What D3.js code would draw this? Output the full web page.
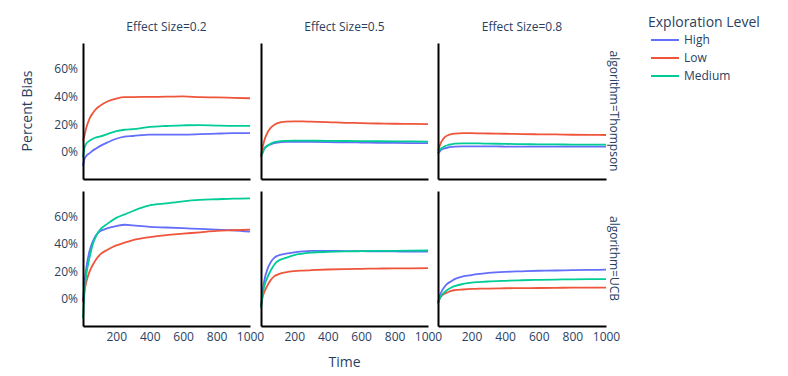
<!DOCTYPE html>
<html>
<head>
<meta charset="utf-8">
<script src="https://cdn.jsdelivr.net/npm/d3@7"></script>
<style>
  body { margin: 0; background: #fff; }
  text { font-family: "Open Sans", sans-serif; fill: #2a3f5f; }
</style>
</head>
<body>
<div id="chart"></div>
<script>
// Data
const times = [1, 10, 20, 40, 60, 80, 100, 150, 200, 250, 300, 400, 500, 600, 700, 800, 900, 1000];
const algorithms = ["Thompson", "UCB"];
const effectSizes = ["0.2", "0.5", "0.8"];
const levels = ["High", "Low", "Medium"];
const xTicks = [200, 400, 600, 800, 1000];
const yTicks = [0, 20, 40, 60];

// Thompson
const thompson02High   = [-10, -5, -3, -1, 1, 2.5, 4, 7, 9.5, 11, 11.5, 12.5, 12.5, 12.5, 12.8, 13.2, 13.5, 13.5];
const thompson02Low    = [8, 12, 17, 24, 28, 31, 33, 36.5, 38.5, 39.5, 39.5, 39.7, 39.8, 40, 39.5, 39.3, 39, 38.7];
const thompson02Medium = [-4, 3, 6, 8, 9.5, 10.5, 11, 13, 15, 16, 16.5, 18, 18.7, 19.2, 19.3, 19, 18.8, 18.8];
const thompson05High   = [-2, 0, 2.5, 4.5, 5.5, 6.3, 6.8, 7.2, 7.3, 7.3, 7.2, 7, 6.9, 6.8, 6.6, 6.5, 6.4, 6.3];
const thompson05Low    = [-4, 3, 8, 14, 17.5, 19.5, 20.8, 21.8, 22, 22, 21.8, 21.5, 21, 20.8, 20.5, 20.3, 20.2, 20];
const thompson05Medium = [-3, -1, 2, 4.5, 6, 7, 7.5, 8, 8.2, 8.2, 8.1, 8, 7.9, 7.8, 7.7, 7.6, 7.6, 7.5];
const thompson08High   = [-1, 0, 1.5, 2.5, 3.2, 3.6, 3.8, 4, 4, 4, 4, 3.9, 3.9, 3.9, 3.8, 3.8, 3.8, 3.8];
const thompson08Low    = [1, 4, 7, 10.5, 12, 12.8, 13.2, 13.5, 13.5, 13.4, 13.3, 13.1, 12.9, 12.7, 12.6, 12.4, 12.3, 12.2];
const thompson08Medium = [-1, 1, 2.5, 4, 5, 5.5, 6, 6.2, 6.2, 6.1, 6, 5.8, 5.6, 5.5, 5.4, 5.3, 5.2, 5.2];

// UCB
const ucb02High   = [-2, 12, 22, 35, 42, 46.5, 49, 51.5, 53, 54, 53.5, 52.5, 52, 51.5, 51, 50.5, 50, 49];
const ucb02Low    = [-2, 6, 12, 20, 25, 29, 32, 36, 39, 41, 42.8, 45, 46.5, 47.5, 48.5, 49.5, 50, 50.5];
const ucb02Medium = [-14, 5, 17, 30, 40, 46, 50, 55, 59, 61.5, 64, 68, 69.5, 71, 72, 72.5, 73, 73.2];
const ucb05High   = [-6, 5, 13, 22, 27, 30, 31.5, 33, 34, 34.6, 35, 35, 34.9, 34.8, 34.7, 34.6, 34.5, 34.5];
const ucb05Low    = [-6, 1, 5, 10, 14, 16.5, 17.8, 19.5, 20.3, 20.7, 21, 21.5, 21.8, 22, 22.2, 22.3, 22.4, 22.5];
const ucb05Medium = [-6, 3, 9, 16, 21, 25, 27.5, 30, 32, 33, 33.8, 34.3, 34.6, 34.8, 35, 35.1, 35.2, 35.3];
const ucb08High   = [-3, 2, 5, 9, 11.5, 13, 14.5, 16.5, 17.5, 18.3, 19, 19.8, 20.2, 20.6, 20.8, 21, 21.2, 21.4];
const ucb08Low    = [-3, 0, 2, 4, 5, 6, 6.5, 7, 7.4, 7.6, 7.7, 7.9, 8, 8.1, 8.2, 8.3, 8.3, 8.4];
const ucb08Medium = [-3, 0, 2.5, 5, 7, 8.5, 9.5, 11, 12, 12.4, 12.8, 13.3, 13.7, 14, 14.2, 14.4, 14.5, 14.6];

const seriesTable = {
    Thompson: {
        "0.2": { High: thompson02High, Low: thompson02Low, Medium: thompson02Medium },
        "0.5": { High: thompson05High, Low: thompson05Low, Medium: thompson05Medium },
        "0.8": { High: thompson08High, Low: thompson08Low, Medium: thompson08Medium }
    },
    UCB: {
        "0.2": { High: ucb02High, Low: ucb02Low, Medium: ucb02Medium },
        "0.5": { High: ucb05High, Low: ucb05Low, Medium: ucb05Medium },
        "0.8": { High: ucb08High, Low: ucb08Low, Medium: ucb08Medium }
    }
};

const colors = { High: "#636efa", Low: "#ef553b", Medium: "#00cc96" };

function createChart() {
    const width = 788, height = 376;

    // panel positions (columns = effect size, rows = algorithm)
    const cols = [[83, 250], [261, 428], [438, 606]];
    const rows = [[43, 179], [191, 326]];

    const svg = d3.select("#chart").append("svg")
        .attr("width", width)
        .attr("height", height);

    const line = d3.line().curve(d3.curveMonotoneX);

    algorithms.forEach((algo, r) => {
        const y = d3.scaleLinear().domain([-19.5, 78.5]).range([rows[r][1], rows[r][0]]);

        effectSizes.forEach((es, c) => {
            const x = d3.scaleLinear().domain([1, 1000]).range(cols[c]);

            // lines
            levels.forEach(lv => {
                const vals = seriesTable[algo][es][lv];
                svg.append("path")
                    .attr("d", line.x((d, i) => x(times[i])).y(d => y(d))(vals))
                    .attr("fill", "none")
                    .attr("stroke", colors[lv])
                    .attr("stroke-width", 1.8);
            });

            // x axis
            const xAxis = svg.append("g")
                .attr("transform", `translate(0,${rows[r][1]})`)
                .call(d3.axisBottom(x).tickValues(r === 1 ? xTicks : []).tickSize(0).tickSizeOuter(0).tickPadding(6)
                    .tickFormat(d3.format("d")));
            xAxis.select(".domain").attr("stroke", "#000").attr("stroke-width", 2);
            xAxis.selectAll("text").attr("font-size", 12).attr("fill", "#2a3f5f")
                .style("font-family", "'Open Sans', sans-serif");

            // y axis
            const yAxis = svg.append("g")
                .attr("transform", `translate(${cols[c][0]},0)`)
                .call(d3.axisLeft(y).tickValues(c === 0 ? yTicks : []).tickSize(0).tickSizeOuter(0).tickPadding(5)
                    .tickFormat(d => d + "%"));
            yAxis.select(".domain").attr("stroke", "#000").attr("stroke-width", 2);
            yAxis.selectAll("text").attr("font-size", 12).attr("fill", "#2a3f5f")
                .style("font-family", "'Open Sans', sans-serif");

            // column titles
            if (r === 0) {
                svg.append("text")
                    .attr("x", (cols[c][0] + cols[c][1]) / 2)
                    .attr("y", 31)
                    .attr("text-anchor", "middle")
                    .attr("font-size", 12)
                    .text("Effect Size=" + es);
            }
        });

        // row titles
        const cy = (rows[r][0] + rows[r][1]) / 2;
        svg.append("text")
            .attr("transform", `translate(610,${cy}) rotate(90)`)
            .attr("text-anchor", "middle")
            .attr("font-size", 12)
            .text("algorithm=" + algo);
    });

    // axis titles
    svg.append("text")
        .attr("transform", `translate(32,${(rows[0][0] + rows[0][1]) / 2}) rotate(-90)`)
        .attr("text-anchor", "middle")
        .attr("font-size", 14)
        .text("Percent Bias");

    svg.append("text")
        .attr("x", (cols[1][0] + cols[1][1]) / 2)
        .attr("y", 367)
        .attr("text-anchor", "middle")
        .attr("font-size", 14)
        .text("Time");

    // legend
    const legend = svg.append("g").attr("transform", "translate(648,0)");
    legend.append("text")
        .attr("x", 0)
        .attr("y", 27)
        .attr("font-size", 14)
        .text("Exploration Level");

    levels.forEach((lv, i) => {
        const ly = 40 + i * 18;
        legend.append("line")
            .attr("x1", 3).attr("x2", 31)
            .attr("y1", ly).attr("y2", ly)
            .attr("stroke", colors[lv])
            .attr("stroke-width", 2);
        legend.append("text")
            .attr("x", 36)
            .attr("y", ly + 4)
            .attr("font-size", 12)
            .text(lv);
    });
}

createChart();
</script>
</body>
</html>
